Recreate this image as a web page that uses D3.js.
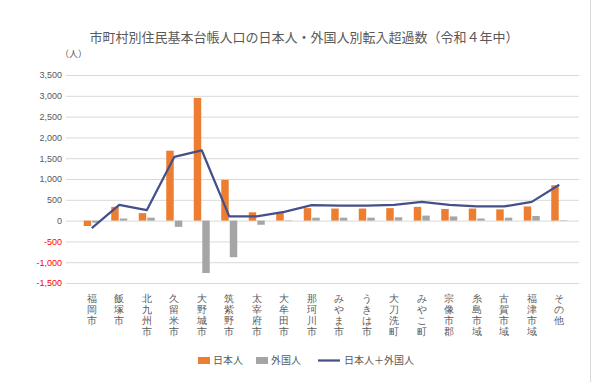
<!DOCTYPE html>
<html><head><meta charset="utf-8">
<script src="https://cdn.jsdelivr.net/npm/d3@7"></script>
<style>
body{margin:0;background:#fff}
svg{display:block;font-family:"Noto Sans CJK JP","Noto Sans",sans-serif}
</style>
</head><body>
<script>
// 市町村別 転入超過数（日本人・外国人）
const title = "市町村別住民基本台帳人口の日本人・外国人別転入超過数（令和４年中）";
const unitLabel = "（人）";
const categories = ["福岡市","飯塚市","北九州市","久留米市","大野城市","筑紫野市","太宰府市","大牟田市","那珂川市","みやま市","うきは市","大刀洗町","みやこ町","宗像市郡","糸島市域","古賀市域","福津市域","その他"];
const japanese = [-130, 330, 180, 1680, 2950, 980, 200, 200, 300, 290, 290, 300, 330, 280, 290, 270, 340, 850];
const foreign  = [-50, 50, 70, -150, -1260, -880, -100, 10, 70, 70, 70, 80, 120, 100, 50, 70, 110, 10];
const total    = [-180, 380, 250, 1530, 1690, 100, 100, 210, 370, 360, 360, 380, 450, 380, 340, 340, 450, 860];
const yTicks = [-1500, -1000, -500, 0, 500, 1000, 1500, 2000, 2500, 3000, 3500];
const seriesNames = ["日本人", "外国人", "日本人＋外国人"];
const colors = {jp: "#ED7D31", fr: "#A5A5A5", line: "#44508A"};

const W = 601, H = 382;
const gridLeft = 66, gridRight = 579;
const svg = d3.select("body").append("svg").attr("width", W).attr("height", H);
svg.append("rect").attr("width", W).attr("height", H).attr("fill", "#fff");
svg.append("line").attr("x1", 590.5).attr("x2", 590.5).attr("y1", 0).attr("y2", H)
  .attr("stroke", "#D9D9D9");

const x = d3.scaleBand().domain(categories).range([78, 573]);
const inner = d3.scaleBand().domain(["jp", "fr"]).range([0, 16]).paddingInner(0.125);
const y = d3.scaleLinear().domain([-1500, 3500]).range([283, 75]);
const cx = c => x(c) + x.bandwidth() / 2;

const fmt = v => (v < 0 ? "-" : "") + d3.format(",")(Math.abs(v));

// gridlines + value axis
const yAxis = d3.axisLeft(y).tickValues(yTicks).tickFormat(fmt)
  .tickSizeInner(-(gridRight - gridLeft)).tickSizeOuter(0).tickPadding(4);
const gy = svg.append("g").attr("transform", `translate(${gridLeft},0)`).call(yAxis);
gy.select(".domain").remove();
gy.selectAll(".tick line").attr("stroke", "#D9D9D9").attr("stroke-width", 1);
gy.selectAll(".tick text").attr("font-size", 9).attr("font-family", "Liberation Sans, Arial, sans-serif")
  .attr("fill", d => d < 0 ? "#FF0000" : "#595959");

// bars
const groups = svg.append("g").selectAll("g").data(categories).join("g")
  .attr("transform", c => `translate(${cx(c) - 8},0)`);
groups.append("rect")
  .attr("x", inner("jp")).attr("width", inner.bandwidth())
  .attr("y", (c, i) => y(Math.max(0, japanese[i])))
  .attr("height", (c, i) => Math.abs(y(japanese[i]) - y(0)))
  .attr("fill", colors.jp);
groups.append("rect")
  .attr("x", inner("fr")).attr("width", inner.bandwidth())
  .attr("y", (c, i) => y(Math.max(0, foreign[i])))
  .attr("height", (c, i) => Math.abs(y(foreign[i]) - y(0)))
  .attr("fill", colors.fr);

// total line
const line = d3.line().x((d, i) => cx(categories[i])).y(d => y(d));
svg.append("path").datum(total).attr("d", line)
  .attr("fill", "none").attr("stroke", colors.line).attr("stroke-width", 2.25)
  .attr("stroke-linejoin", "round");

// category axis with vertical labels
const xAxis = d3.axisBottom(x).tickSize(0).tickPadding(0);
const gx = svg.append("g").attr("transform", "translate(0,290)").call(xAxis);
gx.select(".domain").remove();
gx.selectAll(".tick text").each(function(c) {
  const t = d3.select(this).text(null).attr("y", 0).attr("dy", null)
    .attr("font-size", 10).attr("fill", "#595959").attr("text-anchor", "middle");
  Array.from(c).forEach((ch, k) => {
    t.append("tspan").attr("x", 0).attr("y", 12 + k * 11).text(ch);
  });
});

// title and unit
svg.append("text").attr("x", 304).attr("y", 42).attr("text-anchor", "middle")
  .attr("font-size", 13).attr("fill", "#595959").text(title);
svg.append("text").attr("x", 60).attr("y", 57)
  .attr("font-size", 9).attr("fill", "#595959").text(unitLabel);

// legend
const lg = svg.append("g").attr("font-size", 10).attr("fill", "#595959");
lg.append("rect").attr("x", 198).attr("y", 357).attr("width", 12).attr("height", 7).attr("fill", colors.jp);
lg.append("text").attr("x", 213).attr("y", 364).text(seriesNames[0]);
lg.append("rect").attr("x", 256).attr("y", 357).attr("width", 12).attr("height", 7).attr("fill", colors.fr);
lg.append("text").attr("x", 271).attr("y", 364).text(seriesNames[1]);
lg.append("line").attr("x1", 318).attr("x2", 340).attr("y1", 360.5).attr("y2", 360.5)
  .attr("stroke", colors.line).attr("stroke-width", 2.25);
lg.append("text").attr("x", 344).attr("y", 364).text(seriesNames[2]);
</script>
</body></html>
